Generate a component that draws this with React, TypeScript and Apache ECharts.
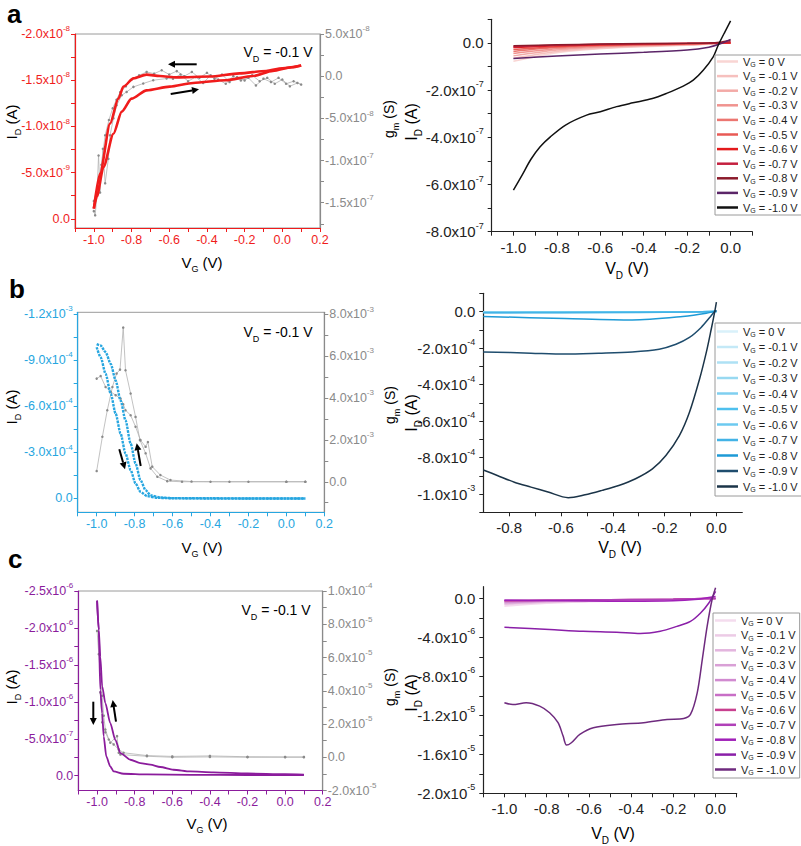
import React, { useEffect, useRef } from 'react';
import * as echarts from 'echarts';

const FONT = '"Liberation Sans", Arial, sans-serif';

// ---------------- tick labels ----------------
const leftX = [-1.0, -0.8, -0.6, -0.4, -0.2, 0.0, 0.2];
const aLeftYL = [-2e-8, -1.5e-8, -1e-8, -5e-9, 0];
const aLeftYR = [5e-8, 0, -5e-8, -1e-7, -1.5e-7];
const aRightX = [-1.0, -0.8, -0.6, -0.4, -0.2, 0.0];
const aRightY = [0, -2e-7, -4e-7, -6e-7, -8e-7];
const bLeftYL = [-1.2e-3, -9e-4, -6e-4, -3e-4, 0];
const bLeftYR = [8e-3, 6e-3, 4e-3, 2e-3, 0];
const bRightX = [-0.8, -0.6, -0.4, -0.2, 0.0];
const bRightY = [0, -2e-4, -4e-4, -6e-4, -8e-4, -1e-3];
const cLeftYL = [-2.5e-6, -2e-6, -1.5e-6, -1e-6, -5e-7, 0];
const cLeftYR = [1e-4, 8e-5, 6e-5, 4e-5, 2e-5, 0, -2e-5];
const cRightX = [-1.0, -0.8, -0.6, -0.4, -0.2, 0.0];
const cRightY = [0, -4e-6, -8e-6, -1.2e-5, -1.6e-5, -2e-5];

const vgLabels = ['0', '-0.1', '-0.2', '-0.3', '-0.4', '-0.5', '-0.6', '-0.7', '-0.8', '-0.9', '-1.0'];

// ---------------- panel a: transfer (ID in 1e-8 A, gm in 1e-8 S) ----------------
const aVgFwd = [-1.0, -0.984, -0.949, -0.896, -0.852, -0.8, -0.72, -0.597, -0.473, -0.3, -0.157, -0.05, 0.05, 0.1];
const aIdFwd = [-0.11, -0.24, -0.56, -0.92, -1.16, -1.3, -1.39, -1.43, -1.47, -1.5, -1.545, -1.6, -1.64, -1.66];
const aVgBwd = [0.1, 0.0, -0.086, -0.227, -0.386, -0.56, -0.65, -0.72, -0.79, -0.843, -0.87, -0.914, -0.967, -1.0];
const aIdBwd = [-1.66, -1.63, -1.6, -1.574, -1.54, -1.53, -1.545, -1.56, -1.52, -1.43, -1.3, -1.03, -0.49, -0.11];
const aGmVg = [
  -1.0, -0.993, -0.984, -0.975, -0.967, -0.952, -0.94, -0.923, -0.914, -0.896, -0.879, -0.852, -0.826, -0.79, -0.738, -0.685, -0.614,
  -0.58, -0.54, -0.5, -0.46, -0.42, -0.38, -0.34, -0.3, -0.26, -0.22, -0.18, -0.14, -0.1, -0.06, -0.02, 0.02, 0.06, 0.1,
  0.08, 0.04, 0.0, -0.04, -0.08, -0.12, -0.16, -0.2, -0.24, -0.28, -0.32, -0.36, -0.4, -0.44, -0.48, -0.52, -0.56, -0.6,
  -0.64, -0.68, -0.72, -0.76, -0.8, -0.83, -0.86, -0.88, -0.9, -0.92, -0.94, -0.96, -0.98, -1.0,
];
const aGm = [
  -16.0, -16.5, -14.2, -9.4, -13.8, -8.6, -12.7, -9.8, -7.0, -5.0, -3.45, -2.26, -1.87, -1.27, -0.87, -0.48, -0.28,
  -0.3, 0.2, -0.6, -0.1, -0.8, 0.1, -0.4, -0.9, 0.0, -0.5, -0.2, -1.1, -0.3, -0.7, -0.2, -0.9, -0.6, -1.0,
  -0.8, -1.2, -0.4, -0.9, -0.2, -0.6, 0.1, -0.5, -0.1, -0.7, 0.2, -0.3, 0.4, -0.2, 0.5, 0.0, 0.6, 0.2,
  0.7, 0.3, 0.5, 0.1, -0.4, -1.2, -1.9, -2.8, -3.8, -5.2, -7.0, -10.5, -13.0, -14.8,
];

// ---------------- panel a: output (ID in 1e-7 A) ----------------
const aOutVd = [-1.0, -0.8, -0.6, -0.4, -0.2, -0.1, -0.05, 0.0];
const aOutId = [
  [-0.78, -0.42, -0.25, -0.16, -0.1, -0.06, -0.03, 0],
  [-0.65, -0.36, -0.22, -0.14, -0.09, -0.05, -0.02, 0],
  [-0.55, -0.3, -0.18, -0.12, -0.08, -0.04, -0.02, 0],
  [-0.45, -0.25, -0.15, -0.1, -0.06, -0.03, -0.01, 0],
  [-0.36, -0.2, -0.12, -0.08, -0.05, -0.03, -0.01, 0],
  [-0.28, -0.16, -0.1, -0.07, -0.04, -0.02, -0.01, 0],
  [-0.2, -0.12, -0.08, -0.05, -0.03, -0.02, -0.01, 0],
  [-0.16, -0.1, -0.06, -0.04, -0.02, -0.01, 0, 0.05],
  [-0.12, -0.08, -0.05, -0.03, -0.02, 0, 0.03, 0.1],
  [-0.66, -0.55, -0.47, -0.4, -0.3, -0.18, -0.05, 0.15],
];
const aOut10Vd = [-1.0, -0.96, -0.92, -0.877, -0.83, -0.76, -0.663, -0.6, -0.525, -0.45, -0.36, -0.295, -0.218, -0.172, -0.126, -0.08, -0.057, -0.026, 0.0];
const aOut10Id = [-6.24, -5.6, -4.94, -4.4, -3.98, -3.48, -3.06, -2.92, -2.7, -2.54, -2.36, -2.14, -1.83, -1.58, -1.16, -0.59, -0.1, 0.47, 0.93];

// ---------------- panel b: transfer (ID in 1e-4 A, gm in 1e-3 S) ----------------
const bVgA = [-1.0, -0.979, -0.953, -0.926, -0.9, -0.874, -0.848, -0.821, -0.795, -0.769, -0.742, -0.716, -0.664, -0.6, -0.4, -0.2, 0.0, 0.1];
const bIdA = [-10.03, -9.94, -9.51, -8.75, -7.67, -6.37, -5.08, -3.57, -2.27, -1.19, -0.54, -0.21, -0.06, -0.02, -0.01, 0, 0, 0];
const bVgB = [-1.0, -0.979, -0.953, -0.926, -0.9, -0.874, -0.848, -0.821, -0.795, -0.769, -0.734, -0.68, -0.6, -0.4, -0.2, 0.0, 0.1];
const bIdB = [-9.83, -9.18, -8.11, -6.81, -5.51, -4.22, -2.92, -1.84, -0.97, -0.43, -0.15, -0.04, -0.01, 0, 0, 0, 0];
const bGmVgA = [-1.0, -0.97, -0.944, -0.917, -0.895, -0.877, -0.86, -0.848, -0.821, -0.795, -0.772, -0.742, -0.716, -0.68, -0.628, -0.55, -0.4, -0.2, 0.0, 0.1];
const bGmA = [0.51, 2.15, 3.42, 4.53, 5.17, 5.36, 7.37, 5.33, 4.22, 3.1, 1.99, 1.36, 0.64, 0.24, 0.03, 0.0, 0.0, 0.0, 0.0, 0.0];
const bGmVgB = [-1.0, -0.979, -0.953, -0.926, -0.9, -0.874, -0.86, -0.848, -0.821, -0.795, -0.769, -0.742, -0.73, -0.707, -0.664, -0.611, -0.5, -0.3, 0.0, 0.1];
const bGmB = [4.93, 5.05, 4.53, 4.3, 4.14, 3.98, 3.7, 3.42, 3.18, 2.63, 1.99, 1.67, 1.9, 0.72, 0.32, 0.08, 0.01, 0.0, 0.0, 0.0];

// ---------------- panel b: output (ID in 1e-4 A) ----------------
const bOutVd = [-0.9, -0.6, -0.3, -0.1, 0.0];
const bOutId = [
  [-0.02, -0.02, -0.01, -0.01, 0],
  [-0.03, -0.02, -0.02, -0.01, 0],
  [-0.03, -0.03, -0.02, -0.01, 0],
  [-0.04, -0.03, -0.02, -0.01, 0],
  [-0.04, -0.04, -0.03, -0.01, 0],
  [-0.05, -0.04, -0.03, -0.02, 0],
  [-0.05, -0.05, -0.04, -0.02, 0],
  [-0.06, -0.06, -0.05, -0.02, 0],
];
const bOut08Vd = [-0.9, -0.585, -0.325, -0.13, -0.039, 0.0];
const bOut08Id = [-0.27, -0.38, -0.46, -0.27, -0.09, 0.05];
const bOut09Vd = [-0.9, -0.716, -0.585, -0.455, -0.325, -0.221, -0.156, -0.104, -0.059, -0.026, -0.007, 0.0];
const bOut09Id = [-2.21, -2.28, -2.33, -2.28, -2.21, -2.06, -1.79, -1.42, -0.87, -0.33, 0.0, 0.05];
const bOut10Vd = [-0.9, -0.846, -0.78, -0.716, -0.65, -0.572, -0.507, -0.442, -0.377, -0.312, -0.247, -0.195, -0.143, -0.104, -0.065, -0.039, -0.02, -0.007, 0.0];
const bOut10Id = [-8.68, -8.98, -9.35, -9.62, -9.89, -10.2, -10.04, -9.8, -9.53, -9.16, -8.62, -7.89, -6.8, -5.52, -3.7, -2.24, -0.97, -0.05, 0.52];

// ---------------- panel c: transfer (ID in 1e-7 A, gm in 1e-5 S) ----------------
const cVgA = [-1.0, -0.991, -0.983, -0.973, -0.956, -0.93, -0.903, -0.876, -0.823, -0.77, -0.717, -0.664, -0.594, -0.505, -0.381, -0.2, 0.0, 0.1];
const cIdA = [-23.7, -19.7, -16.1, -12.1, -9.82, -7.12, -4.86, -3.06, -2.16, -1.71, -1.49, -1.18, -0.81, -0.58, -0.45, -0.3, -0.2, -0.15];
const cVgB = [-1.0, -0.991, -0.983, -0.973, -0.965, -0.951, -0.93, -0.912, -0.859, -0.735, -0.5, -0.2, 0.0, 0.1];
const cIdB = [-23.7, -19.7, -11.6, -8.47, -5.31, -2.61, -1.26, -0.58, -0.27, -0.18, -0.12, -0.1, -0.1, -0.1];
const cGmVgA = [-1.0, -0.991, -0.983, -0.973, -0.965, -0.956, -0.938, -0.912, -0.885, -0.859, -0.735, -0.6, -0.4, -0.2, 0.0, 0.1];
const cGmA = [7.6, 6.2, 5.0, 3.7, 2.5, 1.67, 1.07, 0.77, 0.47, 0.27, 0.1, 0.05, 0.08, 0.03, 0.02, 0.02];
const cGmVgB = [-0.983, -0.973, -0.956, -0.93, -0.894, -0.885, -0.876, -0.735, -0.6, -0.4, -0.2, 0.0, 0.1];
const cGmB = [3.9, 2.1, 1.5, 0.87, 1.27, 0.27, 0.16, 0.06, 0.0, 0.02, 0.0, 0.0, 0.0];

// ---------------- panel c: output (ID in 1e-6 A) ----------------
const cOutVd = [-1.0, -0.8, -0.6, -0.4, -0.2, -0.1, 0.0];
const cOutId = [
  [-0.8, -0.5, -0.35, -0.25, -0.15, -0.08, 0],
  [-0.65, -0.42, -0.3, -0.22, -0.13, -0.07, 0],
  [-0.55, -0.36, -0.26, -0.2, -0.12, -0.06, 0],
  [-0.45, -0.3, -0.22, -0.17, -0.11, -0.05, 0],
  [-0.38, -0.26, -0.2, -0.15, -0.1, -0.05, 0],
  [-0.3, -0.22, -0.17, -0.13, -0.09, -0.04, 0],
  [-0.25, -0.2, -0.16, -0.12, -0.08, -0.04, 0],
  [-0.2, -0.18, -0.15, -0.12, -0.08, -0.04, 0],
  [-0.2, -0.22, -0.26, -0.3, -0.25, -0.12, 0.2],
];
const cOut09Vd = [-1.0, -0.786, -0.627, -0.468, -0.357, -0.262, -0.183, -0.119, -0.071, -0.032, 0.0];
const cOut09Id = [-2.97, -3.2, -3.38, -3.48, -3.61, -3.38, -2.87, -2.36, -1.5, -0.47, 0.72];
const cOut10Vd = [-1.0, -0.96, -0.897, -0.833, -0.786, -0.746, -0.722, -0.706, -0.683, -0.643, -0.579, -0.468, -0.341, -0.23, -0.151, -0.119, -0.087, -0.063, -0.04, -0.016, 0.0];
const cOut10Id = [-10.71, -10.89, -10.71, -11.06, -11.74, -12.76, -14.13, -15.05, -14.81, -13.96, -13.27, -12.93, -12.76, -12.42, -12.32, -11.91, -9.69, -6.28, -2.87, -0.06, 1.1];

// ---------------- colours ----------------
const aColors = ['#f9d5d3', '#f6c0be', '#f3aaa7', '#f0938f', '#ec7671', '#e85a55', '#e31a1c', '#c4203f', '#8b1a2b', '#5b2568', '#111111'];
const bColors = ['#d9f1fa', '#c4e9f7', '#aee1f4', '#98d9f1', '#7fcff0', '#4fc0ee', '#6ccaf0', '#43b3e6', '#1e9ad6', '#1f4d6e', '#1b3448'];
const cColors = ['#f4dcee', '#eccbe6', '#e3b5de', '#d9a0d6', '#d18ad0', '#c86ec6', '#c8408f', '#b040b8', '#a020b8', '#8a1fa8', '#6e2a7e'];
const RED = '#f01c1c';
const BLUE = '#27a6e0';
const PURPLE = '#8b1c9c';
const GRAY = '#8a8a8a';
const DARK = '#222222';

// ---------------- helpers ----------------
function withMinor(major: number[], min: number, max: number): number[] {
  const s = [...major].sort((p, q) => p - q);
  const step = s[1] - s[0];
  const out: number[] = [];
  const eps = Math.abs(step) * 1e-6;
  const cand = [...s];
  for (let i = 0; i < s.length - 1; i++) cand.push((s[i] + s[i + 1]) / 2);
  cand.push(s[0] - step / 2, s[s.length - 1] + step / 2);
  cand.forEach((v) => { if (v >= min - eps && v <= max + eps) out.push(v); });
  return out.sort((p, q) => p - q);
}

function sciLabel(v: number): string {
  if (Math.abs(v) < 1e-20) return '{m|0.0}';
  const e = Math.floor(Math.log10(Math.abs(v)) + 1e-9);
  const m = v / Math.pow(10, e);
  return '{m|' + m.toFixed(1) + 'x10}{s|' + e + '}';
}

function xLabel(v: number): string {
  if (Math.abs(v) < 1e-9) return '0.0';
  return v.toFixed(1);
}

type YO = { grid: number; min: number; max: number; inverse?: boolean; right?: boolean; labels: number[]; color: string; font: number; sup: number; margin: number };
function yAx(o: YO) {
  return {
    type: 'value', gridIndex: o.grid, min: o.min, max: o.max, inverse: !!o.inverse, position: o.right ? 'right' : 'left',
    axisLine: { show: true, onZero: false, lineStyle: { color: o.color, width: 1.2 } },
    axisTick: { show: true, inside: false, length: 4, customValues: withMinor(o.labels, o.min, o.max), lineStyle: { color: o.color, width: 1 } },
    axisLabel: {
      show: true, customValues: o.labels, margin: o.margin, formatter: (v: number) => sciLabel(v),
      rich: {
        m: { fontSize: o.font, fontFamily: FONT, color: o.color, lineHeight: o.font + 6 },
        s: { fontSize: o.sup, fontFamily: FONT, color: o.color, verticalAlign: 'top', lineHeight: o.sup + 1 },
      },
    },
    splitLine: { show: false },
  };
}

type XO = { grid: number; min: number; max: number; labels: number[]; color: string; font: number; margin: number };
function xAx(o: XO) {
  return {
    type: 'value', gridIndex: o.grid, min: o.min, max: o.max, position: 'bottom',
    axisLine: { show: true, onZero: false, lineStyle: { color: o.color, width: 1.2 } },
    axisTick: { show: true, inside: false, length: 4, customValues: withMinor(o.labels, o.min, o.max), lineStyle: { color: o.color, width: 1 } },
    axisLabel: { show: true, customValues: o.labels, margin: o.margin, formatter: (v: number) => xLabel(v), fontSize: o.font, fontFamily: FONT, color: o.color },
    splitLine: { show: false },
  };
}

function pairs(xs: number[], ys: number[], k: number) {
  return xs.map((x, i) => [x, ys[i] * k]);
}

function idSeries(name: string, xi: number, yi: number, xs: number[], ys: number[], k: number, color: string, width: number, dash: number[] | null) {
  return {
    name, type: 'line', xAxisIndex: xi, yAxisIndex: yi, data: pairs(xs, ys, k), symbol: 'none', smooth: 0.25, smoothMonotone: 'x',
    lineStyle: { color, width, type: dash ? dash : 'solid' }, itemStyle: { color }, z: 4,
  };
}

function gmSeries(name: string, xi: number, yi: number, xs: number[], ys: number[], k: number) {
  return {
    name, type: 'line', xAxisIndex: xi, yAxisIndex: yi, data: pairs(xs, ys, k), symbol: 'circle', symbolSize: 2.5, showSymbol: true,
    lineStyle: { color: '#b3b3b3', width: 0.8 }, itemStyle: { color: GRAY }, z: 3,
  };
}

function outSeries(name: string, xi: number, yi: number, xs: number[], ys: number[], k: number, color: string) {
  return {
    name, type: 'line', xAxisIndex: xi, yAxisIndex: yi, data: pairs(xs, ys, k), symbol: 'none', smooth: 0.3,
    lineStyle: { color, width: 1.5 }, itemStyle: { color }, z: 3,
  };
}

const subRich = (size: number, sub: number, color: string) => ({
  m: { fontSize: size, fontFamily: FONT, color, lineHeight: size + 8 },
  s: { fontSize: sub, fontFamily: FONT, color, verticalAlign: 'bottom', lineHeight: sub + 3 },
});

function title(text: string, x: number, y: number, size: number, sub: number, color: string, rotate: boolean) {
  return {
    type: 'text', x, y, rotation: rotate ? Math.PI / 2 : 0, z: 10,
    style: { text, rich: subRich(size, sub, color), align: 'center', verticalAlign: 'middle' },
  };
}

function arrow(x1: number, y1: number, x2: number, y2: number) {
  const ang = Math.atan2(y2 - y1, x2 - x1);
  const L = 7;
  const W = 3.5;
  const bx = x2 - L * Math.cos(ang);
  const by = y2 - L * Math.sin(ang);
  const px = -Math.sin(ang) * W;
  const py = Math.cos(ang) * W;
  return [
    { type: 'line', z: 10, shape: { x1, y1, x2: bx, y2: by }, style: { stroke: '#000', lineWidth: 2 } },
    { type: 'polygon', z: 10, shape: { points: [[x2, y2], [bx + px, by + py], [bx - px, by - py]] }, style: { fill: '#000' } },
  ];
}

function letter(t: string, x: number, y: number) {
  return { type: 'text', x, y, z: 10, style: { text: t, fontSize: 26, fontWeight: 'bold', fontFamily: FONT, fill: '#000', verticalAlign: 'middle' } };
}

function legend(prefix: string, left: number, top: number, gap: number, pad: number[]) {
  return {
    show: true, orient: 'vertical', left, top, itemGap: gap, itemWidth: 21, itemHeight: 2.5, icon: 'rect', padding: pad,
    backgroundColor: '#fff', borderColor: '#9a9a9a', borderWidth: 1, borderRadius: 0,
    data: vgLabels.map((_, i) => prefix + i),
    formatter: (name: string) => '{m|V}{s|G}{m| = ' + vgLabels[parseInt(name.slice(1), 10)] + ' V}',
    textStyle: {
      rich: {
        m: { fontSize: 11, fontFamily: FONT, color: '#222', lineHeight: 13 },
        s: { fontSize: 7, fontFamily: FONT, color: '#222', verticalAlign: 'bottom', lineHeight: 8 },
      },
    },
    selectedMode: false,
  };
}

export default function App() {
  const ref = useRef<HTMLDivElement>(null);
  useEffect(() => {
    if (!ref.current) return;
    const chart = echarts.init(ref.current, undefined, { renderer: 'svg' });

    const grids = [
      { left: 75, top: 34, width: 245, height: 194, show: true, borderColor: '#9a9a9a', borderWidth: 1 },
      { left: 491.7, top: 19.3, width: 260.6, height: 212.4, show: false },
      { left: 77.7, top: 312.3, width: 246.6, height: 200, show: true, borderColor: '#9a9a9a', borderWidth: 1 },
      { left: 483.3, top: 293.3, width: 259, height: 219, show: false },
      { left: 78.3, top: 591, width: 244.4, height: 199.5, show: true, borderColor: '#9a9a9a', borderWidth: 1 },
      { left: 483.3, top: 586.7, width: 253.4, height: 206.6, show: false },
    ];

    const xAxes = [
      xAx({ grid: 0, min: -1.1, max: 0.2, labels: leftX, color: RED, font: 12.5, margin: 5 }),
      xAx({ grid: 1, min: -1.1, max: 0.1, labels: aRightX, color: DARK, font: 15, margin: 8 }),
      xAx({ grid: 2, min: -1.1, max: 0.2, labels: leftX, color: BLUE, font: 12.5, margin: 5 }),
      xAx({ grid: 3, min: -0.9, max: 0.1, labels: bRightX, color: DARK, font: 15, margin: 8 }),
      xAx({ grid: 4, min: -1.1, max: 0.2, labels: leftX, color: PURPLE, font: 12.5, margin: 5 }),
      xAx({ grid: 5, min: -1.1, max: 0.1, labels: cRightX, color: DARK, font: 15, margin: 8 }),
    ];

    const yAxes = [
      yAx({ grid: 0, min: -2e-8, max: 1e-9, inverse: true, labels: aLeftYL, color: RED, font: 12.5, sup: 8, margin: 5 }),
      yAx({ grid: 0, min: -1.8e-7, max: 5e-8, right: true, labels: aLeftYR, color: GRAY, font: 12.5, sup: 8, margin: 5 }),
      yAx({ grid: 1, min: -8e-7, max: 1e-7, labels: aRightY, color: DARK, font: 15, sup: 9, margin: 8 }),
      yAx({ grid: 2, min: -1.21e-3, max: 9e-5, inverse: true, labels: bLeftYL, color: BLUE, font: 12.5, sup: 8, margin: 5 }),
      yAx({ grid: 2, min: -1.46e-3, max: 8.1e-3, right: true, labels: bLeftYR, color: GRAY, font: 12.5, sup: 8, margin: 5 }),
      yAx({ grid: 3, min: -1.1e-3, max: 1e-4, labels: bRightY, color: DARK, font: 15, sup: 9, margin: 8 }),
      yAx({ grid: 4, min: -2.5e-6, max: 2e-7, inverse: true, labels: cLeftYL, color: PURPLE, font: 12.5, sup: 8, margin: 5 }),
      yAx({ grid: 4, min: -2e-5, max: 1e-4, right: true, labels: cLeftYR, color: GRAY, font: 12.5, sup: 8, margin: 5 }),
      yAx({ grid: 5, min: -2e-5, max: 1.2e-6, labels: cRightY, color: DARK, font: 15, sup: 9, margin: 8 }),
    ];

    const series: any[] = [];
    // panel a transfer
    series.push(gmSeries('aGm', 0, 1, aGmVg, aGm, 1e-8));
    series.push(idSeries('aIdF', 0, 0, aVgFwd, aIdFwd, 1e-8, RED, 2.6, null));
    series.push(idSeries('aIdB', 0, 0, aVgBwd, aIdBwd, 1e-8, RED, 2.6, null));
    // panel a output
    aOutId.forEach((ys, i) => series.push(outSeries('a' + i, 1, 2, aOutVd, ys, 1e-7, aColors[i])));
    series.push(outSeries('a10', 1, 2, aOut10Vd, aOut10Id, 1e-7, aColors[10]));
    // panel b transfer
    series.push(gmSeries('bGmA', 2, 4, bGmVgA, bGmA, 1e-3));
    series.push(gmSeries('bGmB', 2, 4, bGmVgB, bGmB, 1e-3));
    series.push(idSeries('bIdA', 2, 3, bVgA, bIdA, 1e-4, BLUE, 2.4, [2.5, 1]));
    series.push(idSeries('bIdB', 2, 3, bVgB, bIdB, 1e-4, BLUE, 2.4, [2.5, 1]));
    // panel b output
    bOutId.forEach((ys, i) => series.push(outSeries('b' + i, 3, 5, bOutVd, ys, 1e-4, bColors[i])));
    series.push(outSeries('b8', 3, 5, bOut08Vd, bOut08Id, 1e-4, bColors[8]));
    series.push(outSeries('b9', 3, 5, bOut09Vd, bOut09Id, 1e-4, bColors[9]));
    series.push(outSeries('b10', 3, 5, bOut10Vd, bOut10Id, 1e-4, bColors[10]));
    // panel c transfer
    series.push(gmSeries('cGmA', 4, 7, cGmVgA, cGmA, 1e-5));
    series.push(gmSeries('cGmB', 4, 7, cGmVgB, cGmB, 1e-5));
    series.push(idSeries('cIdA', 4, 6, cVgA, cIdA, 1e-7, PURPLE, 1.8, null));
    series.push(idSeries('cIdB', 4, 6, cVgB, cIdB, 1e-7, PURPLE, 1.8, null));
    // panel c output
    cOutId.forEach((ys, i) => series.push(outSeries('c' + i, 5, 8, cOutVd, ys, 1e-6, cColors[i])));
    series.push(outSeries('c9', 5, 8, cOut09Vd, cOut09Id, 1e-6, cColors[9]));
    series.push(outSeries('c10', 5, 8, cOut10Vd, cOut10Id, 1e-6, cColors[10]));

    const vd = '{m|V}{s|D}{m| = -0.1 V}';
    const graphics: any[] = [
      letter('a', 7, 14),
      letter('b', 9, 289),
      letter('c', 8, 559),
      // left titles
      title('{m|I}{s|D}{m| (A)}', 11, 122, 15, 9, '#333', true),
      title('{m|V}{s|G}{m| (V)}', 202, 262, 15, 9, '#333', false),
      title('{m|g}{s|m}{m| (S)}', 389, 119, 14, 9, GRAY, true),
      title('{m|I}{s|D}{m| (A)}', 11, 407, 15, 9, '#333', true),
      title('{m|V}{s|G}{m| (V)}', 202, 547, 15, 9, '#333', false),
      title('{m|g}{s|m}{m| (S)}', 390, 405, 14, 9, GRAY, true),
      title('{m|I}{s|D}{m| (A)}', 11, 687, 15, 9, '#333', true),
      title('{m|V}{s|G}{m| (V)}', 207, 823, 15, 9, '#333', false),
      title('{m|g}{s|m}{m| (S)}', 390, 687, 14, 9, GRAY, true),
      // right titles
      title('{m|I}{s|D}{m| (A)}', 411, 122, 16, 10, '#222', true),
      title('{m|V}{s|D}{m| (V)}', 627, 268, 16, 10, '#222', false),
      title('{m|I}{s|D}{m| (A)}', 411, 413, 16, 10, '#222', true),
      title('{m|V}{s|D}{m| (V)}', 620, 547, 16, 10, '#222', false),
      title('{m|I}{s|D}{m| (A)}', 411, 693, 16, 10, '#222', true),
      title('{m|V}{s|D}{m| (V)}', 613, 833, 16, 10, '#222', false),
      // VD annotations
      title(vd, 278, 52, 14, 9, '#111', false),
      title(vd, 278, 332, 14, 9, '#111', false),
      title(vd, 276, 610, 14, 9, '#111', false),
      ...arrow(196.7, 64.3, 168, 64.3),
      ...arrow(170.7, 94, 199, 89.3),
      ...arrow(119.3, 449.3, 125, 469.3),
      ...arrow(140.7, 466, 136.7, 443.3),
      ...arrow(93.3, 701.7, 93.3, 725),
      ...arrow(116, 721.7, 112.7, 700),
    ];

    chart.setOption({
      animation: false,
      backgroundColor: '#ffffff',
      textStyle: { fontFamily: FONT },
      grid: grids,
      xAxis: xAxes,
      yAxis: yAxes,
      legend: [
        legend('a', 715, 55, 2.6, [1, 4, 1, 2]),
        legend('b', 715, 323, 3.5, [3, 4, 3, 2]),
        legend('c', 713, 613, 2.9, [2, 4, 2, 2]),
      ],
      series,
      graphic: graphics,
    });
    return () => chart.dispose();
  }, []);
  return <div ref={ref} style={{ position: 'absolute', left: 0, top: 0, width: 801, height: 846 }} />;
}
